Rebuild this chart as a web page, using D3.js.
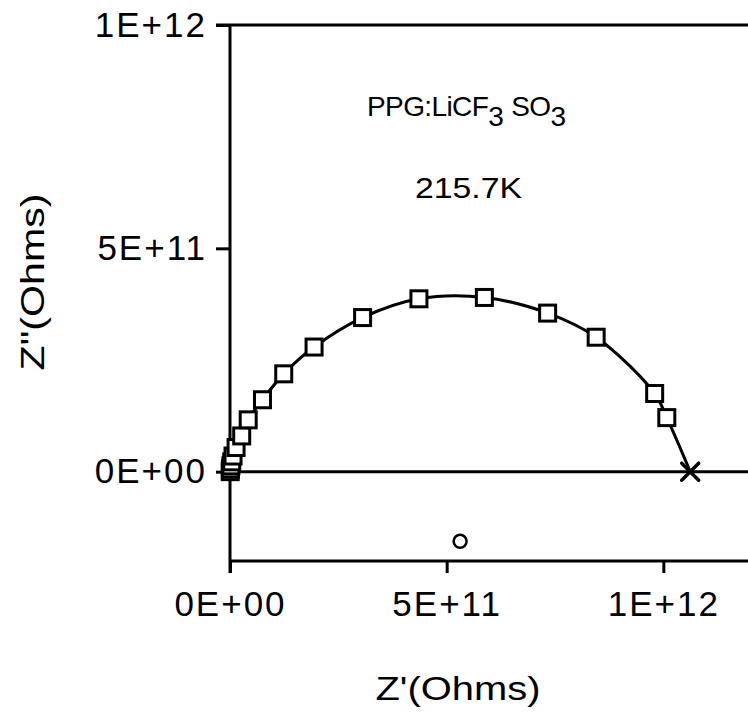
<!DOCTYPE html>
<html><head><meta charset="utf-8">
<script src="https://cdn.jsdelivr.net/npm/d3@7"></script>
<style>
body{margin:0;background:#fff}
text{font-family:"Liberation Sans",Arial,Helvetica,sans-serif;fill:#000}
</style>
</head><body>
<svg id="chart" width="748" height="714"></svg>
<script>
// Measured impedance points (Ohms)
const zReal = [0.0005e12, 0.001e12, 0.002e12, 0.004e12, 0.007e12, 0.014e12, 0.027e12, 0.042e12, 0.075e12, 0.124e12, 0.194e12, 0.306e12, 0.436e12, 0.587e12, 0.733e12, 0.845e12, 0.980e12, 1.008e12];
const zImag = [0.000e12, 0.006e12, 0.013e12, 0.022e12, 0.035e12, 0.054e12, 0.080e12, 0.116e12, 0.161e12, 0.219e12, 0.279e12, 0.345e12, 0.387e12, 0.390e12, 0.355e12, 0.301e12, 0.175e12, 0.121e12];
// Intercept (x marker) and semicircle centre (circle marker)
const interceptReal = [1.062e12];
const interceptImag = [0];
const centreReal = [0.531e12];
const centreImag = [-0.156e12];
const tickValues = [0, 5e11, 1e12];
const tickLabels = ["0E+00", "5E+11", "1E+12"];
const titleX = "Z'(Ohms)";
const titleY = "Z\"(Ohms)";

const svg = d3.select("#chart");
const x = d3.scaleLinear().domain([0, 1.2e12]).range([230, 750]);
const y = d3.scaleLinear().domain([-2e11, 1e12]).range([561, 25]);

const ink = "#000";
const sw = 3;
// frame lines
svg.append("line").attr("x1", 216).attr("x2", 748).attr("y1", y(1e12)).attr("y2", y(1e12)).attr("stroke", ink).attr("stroke-width", sw);
svg.append("line").attr("x1", x(0)).attr("x2", 748).attr("y1", y(0)).attr("y2", y(0)).attr("stroke", ink).attr("stroke-width", sw);
svg.append("line").attr("x1", x(0)).attr("x2", 748).attr("y1", y(-2e11)).attr("y2", y(-2e11)).attr("stroke", ink).attr("stroke-width", sw);
svg.append("line").attr("x1", x(0)).attr("x2", x(0)).attr("y1", y(1e12)).attr("y2", y(-2e11) + 12).attr("stroke", ink).attr("stroke-width", sw);

// y axis
const yAxis = d3.axisLeft(y).tickValues(tickValues).tickFormat((d, i) => tickLabels[i]).tickSize(14).tickPadding(9);
const gy = svg.append("g").attr("transform", `translate(${x(0)},0)`).call(yAxis);
gy.select(".domain").remove();
gy.selectAll(".tick line").attr("stroke", ink).attr("stroke-width", sw);
gy.selectAll(".tick text").attr("font-size", 35).attr("letter-spacing", 2).attr("fill", ink)
  .attr("font-family", '"Liberation Sans",Arial,sans-serif');

// x axis
const xAxis = d3.axisBottom(x).tickValues(tickValues).tickFormat((d, i) => tickLabels[i]).tickSize(12).tickPadding(18);
const gx = svg.append("g").attr("transform", `translate(0,${y(-2e11)})`).call(xAxis);
gx.select(".domain").remove();
gx.selectAll(".tick line").attr("stroke", ink).attr("stroke-width", sw);
gx.selectAll(".tick text").attr("font-size", 35).attr("letter-spacing", 2).attr("fill", ink)
  .attr("font-family", '"Liberation Sans",Arial,sans-serif');

// titles
svg.append("text").attr("x", 458).attr("y", 700).attr("text-anchor", "middle")
  .attr("font-size", 34).attr("textLength", 165).attr("lengthAdjust", "spacingAndGlyphs").text(titleX);
svg.append("text").attr("transform", "translate(44,282) rotate(-90)").attr("text-anchor", "middle")
  .attr("font-size", 34).attr("textLength", 177).attr("lengthAdjust", "spacingAndGlyphs").text(titleY);

// annotations
const t1 = svg.append("text").attr("x", 367).attr("y", 116).attr("font-size", 28).attr("letter-spacing", -0.6);
t1.append("tspan").text("PPG:LiCF");
t1.append("tspan").attr("dy", 10).text("3");
t1.append("tspan").attr("dy", -10).attr("dx", 8).text("SO");
t1.append("tspan").attr("dy", 10).text("3");
svg.append("text").attr("x", 415).attr("y", 198).attr("font-size", 29)
  .attr("textLength", 107).attr("lengthAdjust", "spacingAndGlyphs").text("215.7K");

// fitted curve
const pts = zReal.map((d, i) => [d, zImag[i]]).concat(interceptReal.map((d, i) => [d, interceptImag[i]]));
const line = d3.line().x(d => x(d[0])).y(d => y(d[1])).curve(d3.curveCatmullRom.alpha(0.5));
svg.append("path").attr("d", line(pts)).attr("fill", "none").attr("stroke", ink).attr("stroke-width", sw);

// square markers
const s = 16;
svg.append("g").selectAll("rect").data(zReal).join("rect")
  .attr("x", d => x(d) - s / 2).attr("y", (d, i) => y(zImag[i]) - s / 2)
  .attr("width", s).attr("height", s)
  .attr("fill", "#fff").attr("stroke", ink).attr("stroke-width", 3);

// x marker at intercept
interceptReal.forEach((d, i) => {
  const cx = x(d), cy = y(interceptImag[i]), a = 8.5;
  svg.append("path").attr("d", `M${cx - a},${cy - a}L${cx + a},${cy + a}M${cx - a},${cy + a}L${cx + a},${cy - a}`)
    .attr("stroke", ink).attr("stroke-width", 3.5).attr("stroke-linecap", "round");
});

// circle marker at centre
svg.append("g").selectAll("circle").data(centreReal).join("circle")
  .attr("cx", d => x(d)).attr("cy", (d, i) => y(centreImag[i])).attr("r", 6.5)
  .attr("fill", "#fff").attr("stroke", ink).attr("stroke-width", 2.5);
</script>
</body></html>
